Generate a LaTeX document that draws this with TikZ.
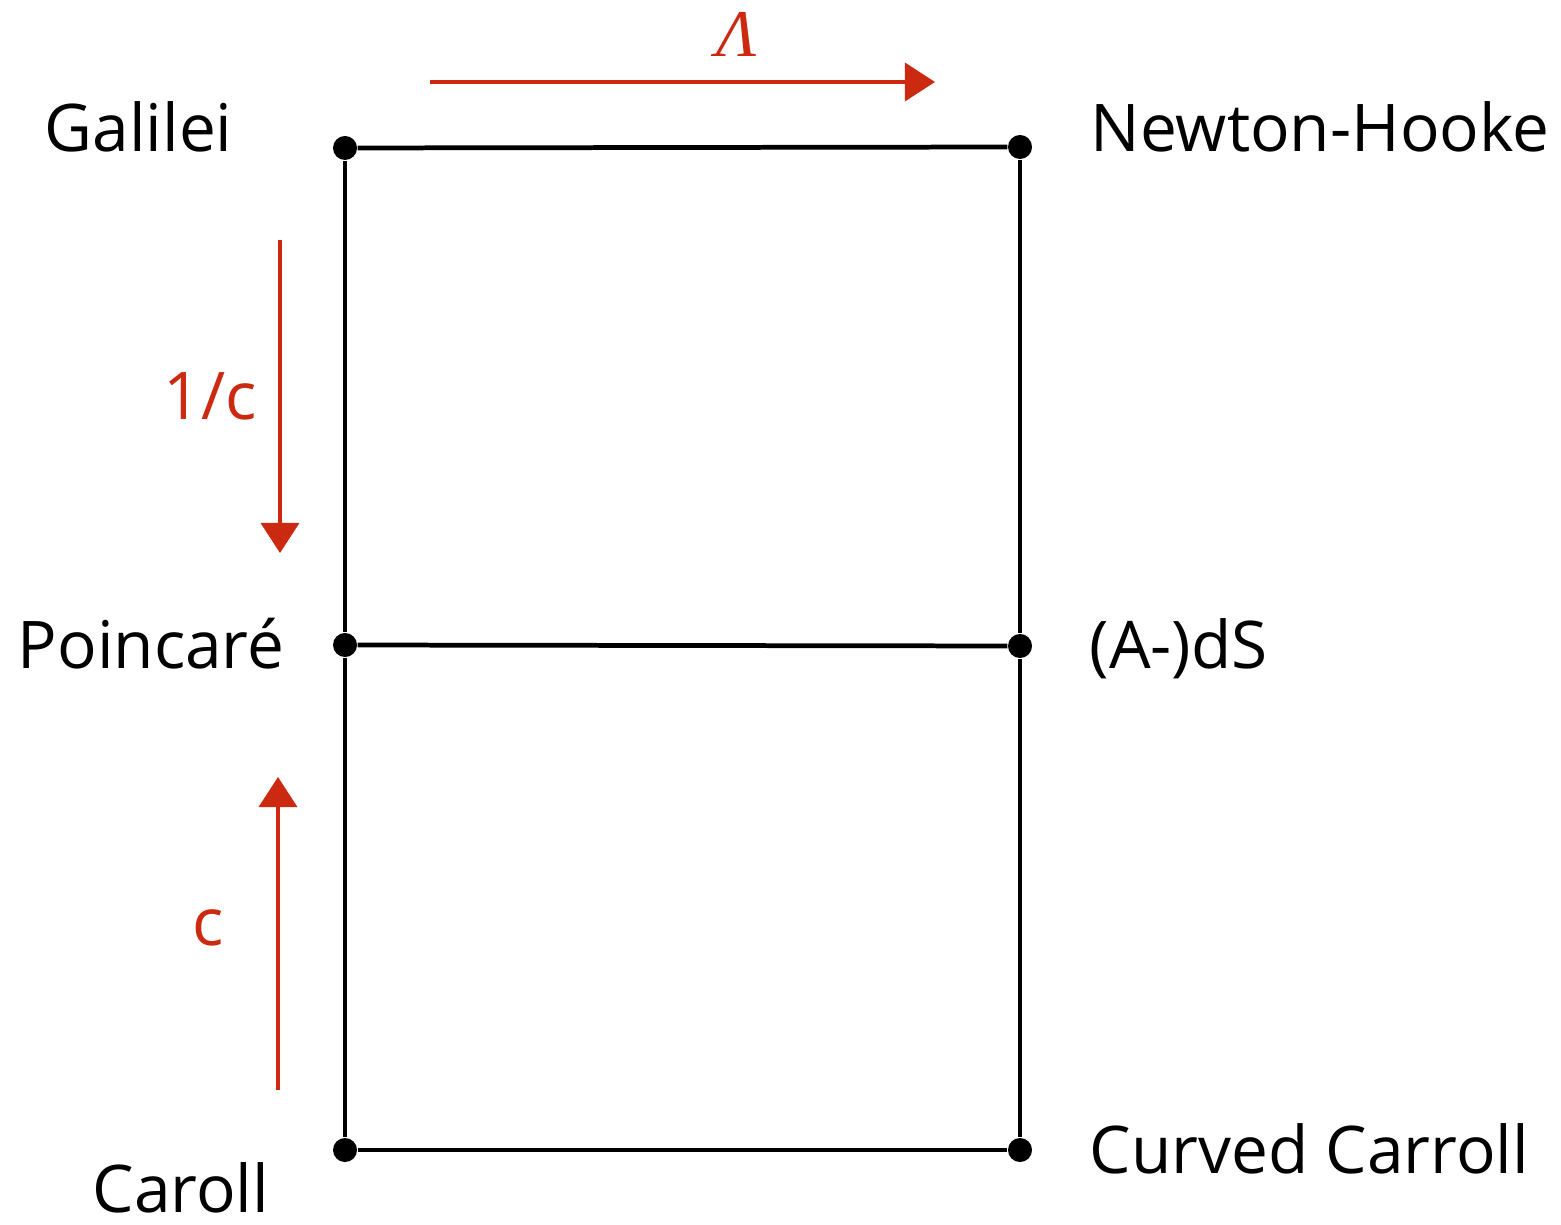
\documentclass[tikz,border=0pt]{standalone}
\usepackage{fontspec}
\setmainfont{Open Sans}
\newfontfamily\greekserif{Liberation Serif}
\usepackage{tikz}
\usetikzlibrary{arrows.meta}
\definecolor{limitred}{RGB}{204,42,16}
\tikzset{
	groupdot/.style={circle, fill=black, inner sep=0pt, minimum size=0.24cm},
	groupname/.style={anchor=base west, inner sep=0pt, font=\fontsize{18.7}{23}\selectfont},
	limitarrow/.style={line width=1pt, color=limitred, -{Triangle[length=0.3cm, width=0.38cm]}},
	limitname/.style={inner sep=0pt, color=limitred, anchor=base, font=\fontsize{18.7}{23}\selectfont}
}

\begin{document}
\begin{tikzpicture}[x=0.01cm, y=-0.01cm]
		%%%%% START %%%%%
		\useasboundingbox (0, 0) rectangle (1561, 1225);
		
		\node[groupdot] (gal) at (345, 148) {};
		\node[groupdot] (nh) at (1020, 147) {};
		\node[groupdot] (poi) at (345, 645) {};
		\node[groupdot] (ads) at (1020, 646) {};
		\node[groupdot] (car) at (345, 1150) {};
		\node[groupdot] (ccar) at (1020, 1150) {};
		
		\draw[line width=1.35pt] (gal) -- (nh);
		\draw[line width=1.35pt] (poi) -- (ads);
		\draw[line width=1.35pt] (car) -- (ccar);
		\draw[line width=1.35pt] (gal) -- (poi) -- (car);
		\draw[line width=1.35pt] (nh) -- (ads) -- (ccar);
		
		\node[groupname] (galname) at (44, 152) {Galilei};
		\node[groupname] (nhname) at (1090, 152) {Newton-Hooke};
		\node[groupname] (poiname) at (17, 668) {Poincaré};
		\node[groupname] (adsname) at (1089, 668) {(A-)dS};
		\node[groupname] (ccarname) at (1089, 1173) {Curved Carroll};
		\node[groupname] (carname) at (92, 1212) {Caroll};
		
		% limits
		\coordinate (lamfrom) at (430, 82);
		\coordinate (lamto) at (935, 82);
		\draw[limitarrow] (lamfrom) -- (lamto);
		\node[inner sep=0pt, color=limitred, anchor=base] (lamname) at (737, 57) {\greekserif\itshape\fontsize{19}{22}\selectfont Λ};
		
		\coordinate (invcfrom) at (280, 240);
		\coordinate (invcto) at (280, 553);
		\draw[limitarrow] (invcfrom) -- (invcto);
		\node[limitname] (invcname) at (210, 420) {1/c};
		
		\coordinate (cfrom) at (278, 1090);
		\coordinate (cto) at (278, 777);
		\draw[limitarrow] (cfrom) -- (cto);
		\node[limitname] (cname) at (208, 945) {c};
		
		%%%%% END %%%%%
	\end{tikzpicture}
\end{document}
